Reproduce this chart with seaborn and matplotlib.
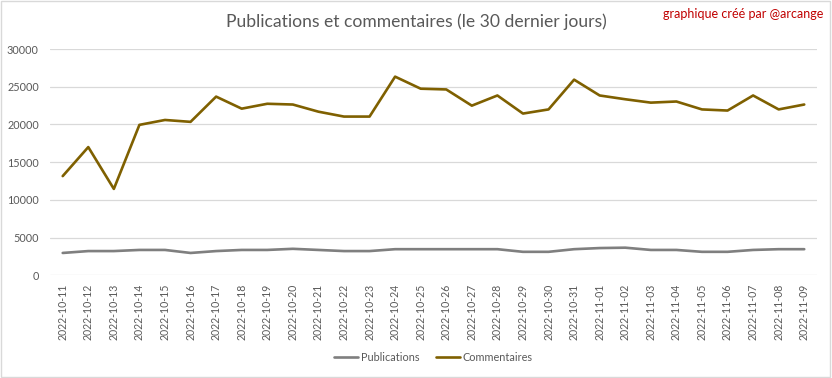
import pandas as pd
import matplotlib.pyplot as plt
import seaborn as sns
from matplotlib.patches import Rectangle

# Data
dates = ['2022-10-11', '2022-10-12', '2022-10-13', '2022-10-14', '2022-10-15',
         '2022-10-16', '2022-10-17', '2022-10-18', '2022-10-19', '2022-10-20',
         '2022-10-21', '2022-10-22', '2022-10-23', '2022-10-24', '2022-10-25',
         '2022-10-26', '2022-10-27', '2022-10-28', '2022-10-29', '2022-10-30',
         '2022-10-31', '2022-11-01', '2022-11-02', '2022-11-03', '2022-11-04',
         '2022-11-05', '2022-11-06', '2022-11-07', '2022-11-08', '2022-11-09']
publications = [2950, 3200, 3200, 3350, 3350, 2950, 3200, 3350, 3350, 3500,
                3350, 3200, 3200, 3450, 3450, 3450, 3450, 3450, 3100, 3100,
                3450, 3600, 3650, 3350, 3350, 3100, 3100, 3350, 3450, 3450]
commentaires = [13150, 17000, 11450, 19950, 20600, 20350, 23700, 22100, 22750, 22650,
                21700, 21050, 21050, 26350, 24750, 24650, 22500, 23850, 21450, 22000,
                25950, 23850, 23350, 22900, 23050, 22000, 21850, 23850, 22000, 22650]
series_names = ['Publications', 'Commentaires']
series_colors = ['#7F7F7F', '#7F6000']
yticks = [0, 5000, 10000, 15000, 20000, 25000, 30000]

df = pd.DataFrame({'date': dates, 'Publications': publications, 'Commentaires': commentaires})
long_df = df.melt(id_vars='date', value_vars=series_names, var_name='serie', value_name='valeur')

sns.set_theme(style='white')
plt.rcParams['font.family'] = ['Lato', 'DejaVu Sans']

fig = plt.figure(figsize=(8.32, 3.78), dpi=100)
ax = fig.add_axes([0.060, 0.272, 0.922, 0.598])

sns.lineplot(data=long_df, x='date', y='valeur', hue='serie', hue_order=series_names,
             palette=dict(zip(series_names, series_colors)), linewidth=1.9, ax=ax)

ax.set_xlim(-0.5, len(dates) - 0.5)
ax.set_ylim(0, 30000)
ax.set_yticks(yticks)
ax.set_yticklabels([str(v) for v in yticks])
ax.grid(axis='y', color='#D9D9D9', linewidth=0.9)
ax.set_axisbelow(True)
for s in ax.spines.values():
    s.set_visible(False)
ax.set_xlabel('')
ax.set_ylabel('')
ax.tick_params(axis='x', rotation=90, labelsize=7.6, colors='#595959', length=0, pad=6)
ax.tick_params(axis='y', labelsize=7.8, colors='#595959', length=0, pad=8)

leg = ax.legend(loc='center', bbox_to_anchor=(0.5, -0.363), ncol=2, frameon=False,
                fontsize=7.8, handlelength=2.2, handletextpad=0.3, columnspacing=1.5)
for t in leg.get_texts():
    t.set_color('#595959')

fig.text(0.5, 0.942, 'Publications et commentaires (le 30 dernier jours)',
         ha='center', va='center', fontsize=12.6, color='#595959')
fig.text(0.99, 0.962, 'graphique créé par @arcange', ha='right', va='center',
         fontsize=9, color='#C00000')

fig.patches.append(Rectangle((0.001, 0.002), 0.997, 0.995, transform=fig.transFigure,
                             fill=False, edgecolor='#D9D9D9', linewidth=1))

plt.savefig('out.png', dpi=100)
